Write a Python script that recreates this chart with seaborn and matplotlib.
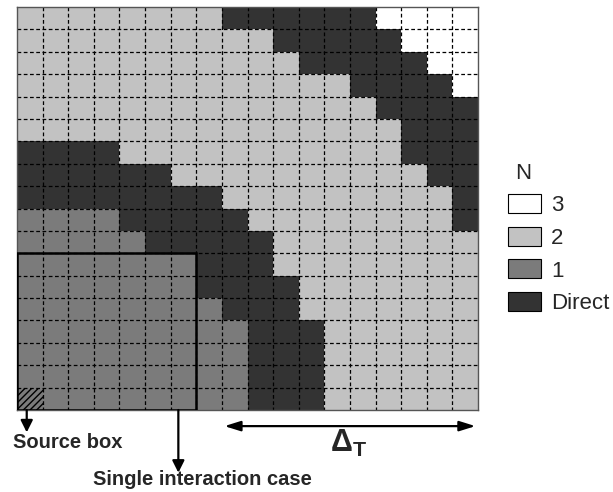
import numpy as np
import matplotlib
matplotlib.use("Agg")
import matplotlib.pyplot as plt
from matplotlib.colors import ListedColormap
from matplotlib.patches import Rectangle, Patch
import seaborn as sns

# Number of interactions per cell: 0 = Direct, 1, 2, 3 (rows top -> bottom)
level_rows = [
    "222222220000003333",
    "222222222200000333",
    "222222222220000033",
    "222222222222200003",
    "222222222222220000",
    "222222222222222000",
    "000022222222222000",
    "000000222222222200",
    "000000002222222220",
    "111100000222222220",
    "111110000022222222",
    "111111100022222222",
    "111111100002222222",
    "111111110002222222",
    "111111111000222222",
    "111111111000222222",
    "111111111000222222",
    "111111111000222222",
]
legend_labels = ["3", "2", "1", "Direct"]
legend_levels = [3, 2, 1, 0]
level_colors = ["#333333", "#7b7b7b", "#c2c2c2", "#ffffff"]  # 0,1,2,3

grid = np.array([[int(c) for c in r] for r in level_rows])
nrows, ncols = grid.shape

sns.set_theme(style="white")
plt.rcParams["font.family"] = ["Liberation Sans", "DejaVu Sans"]
plt.rcParams["mathtext.fontset"] = "custom"
plt.rcParams["mathtext.rm"] = "Liberation Sans:bold"
plt.rcParams["mathtext.it"] = "Liberation Sans:bold"
plt.rcParams["mathtext.bf"] = "Liberation Sans:bold"

fig = plt.figure(figsize=(6.13, 4.92), dpi=100)
ax = fig.add_axes([17 / 613, 82 / 492, 461 / 613, 403 / 492])

cmap = ListedColormap(level_colors)
sns.heatmap(grid, ax=ax, cmap=cmap, vmin=-0.5, vmax=3.5, cbar=False,
            xticklabels=False, yticklabels=False, linewidths=0)

# dashed cell grid
dash = (0, (3, 2))
ax.hlines(np.arange(1, nrows), 0, ncols, colors="black", linestyles=dash, lw=0.9)
ax.vlines(np.arange(1, ncols), 0, nrows, colors="black", linestyles=dash, lw=0.9)

for s in ax.spines.values():
    s.set_visible(True)
    s.set_color("#555555")
    s.set_linewidth(1.0)

# single interaction case box and source box
ax.add_patch(Rectangle((0, 11), 7, 7, fill=False, edgecolor="black", lw=1.8, zorder=5))
ax.add_patch(Rectangle((0, 17), 1, 1, facecolor="none", edgecolor="black",
                       hatch="/////", lw=0, zorder=4))

arrow = dict(arrowstyle="-|>,head_length=0.6,head_width=0.3", color="black", lw=1.6,
             shrinkA=0, shrinkB=0)
ax.annotate("", xy=(0.38, 19.0), xytext=(0.38, 18.0), arrowprops=arrow, annotation_clip=False)
ax.annotate("", xy=(6.3, 20.8), xytext=(6.3, 18.0), arrowprops=arrow, annotation_clip=False)
darrow = dict(arrowstyle="<|-|>,head_length=0.8,head_width=0.25", color="black", lw=1.6,
              shrinkA=0, shrinkB=0)
ax.annotate("", xy=(17.9, 18.72), xytext=(8.1, 18.72), arrowprops=darrow, annotation_clip=False)

ax.text(-0.16, 19.45, "Source box", fontsize=14.5, fontweight="bold", ha="left", va="center",
        clip_on=False)
ax.text(2.95, 21.1, "Single interaction case", fontsize=14.5, fontweight="bold", ha="left",
        va="center", clip_on=False)
ax.text(12.95, 19.5, r"$\Delta_\mathrm{T}$", fontsize=22, ha="center", va="center", clip_on=False)

handles = [Patch(facecolor=level_colors[l], edgecolor="black", lw=0.8) for l in legend_levels]
leg = fig.legend(handles, legend_labels, title="N", loc="upper left",
                 bbox_to_anchor=(492 / 613, 1 - 147 / 492), frameon=False,
                 fontsize=16, title_fontsize=16, handlelength=1.5, handleheight=0.95,
                 handletextpad=0.45, labelspacing=0.47, alignment="left", borderpad=0.2)
# nudge the title right, over the centre of the swatches
leg.get_title().set_x(8)

fig.savefig("out.png", dpi=100)
